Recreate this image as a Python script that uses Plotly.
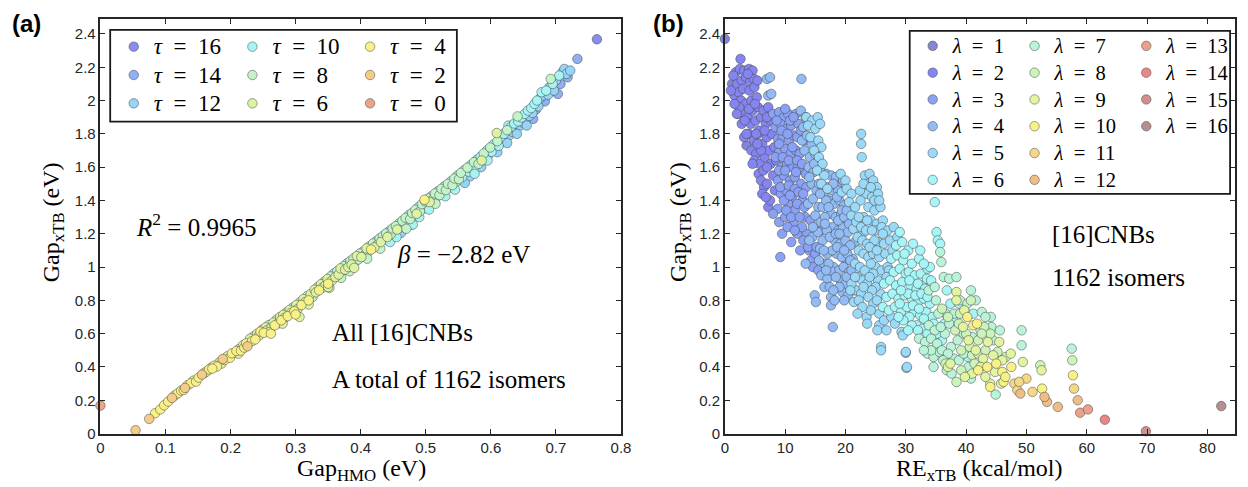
import plotly.graph_objects as go

# ---------------- Panel (a): Gap_xTB vs Gap_HMO, grouped by tau ----------------
tau_levels = [16, 14, 12, 10, 8, 6, 4, 2, 0]
tau_colors = {16: "#8a8cf0", 14: "#8fb0f3", 12: "#96d4f8", 10: "#a6f4f4", 8: "#c3f3c8",
              6: "#dcf3a2", 4: "#f8f186", 2: "#f3cc88", 0: "#eaa488"}

hmo_t0 = [0.000]
xtb_t0 = [0.168]
hmo_t2 = [0.054, 0.075, 0.110, 0.130, 0.156, 0.188, 0.226]
xtb_t2 = [0.020, 0.088, 0.214, 0.274, 0.354, 0.448, 0.524]
hmo_t4 = [0.084, 0.092, 0.098, 0.104, 0.114, 0.119, 0.124, 0.134, 0.139, 0.147, 0.151, 0.163, 0.167,
          0.175, 0.179, 0.191, 0.199, 0.202, 0.209, 0.216, 0.221, 0.224, 0.233, 0.238, 0.246, 0.251,
          0.262, 0.268, 0.278, 0.288, 0.298, 0.309, 0.320, 0.336, 0.350, 0.416, 0.498, 0.300, 0.128, 0.172]
xtb_t4 = [0.122, 0.145, 0.170, 0.192, 0.228, 0.242, 0.258, 0.290, 0.302, 0.312, 0.336, 0.372, 0.385,
          0.408, 0.402, 0.442, 0.455, 0.482, 0.496, 0.498, 0.516, 0.542, 0.555, 0.565, 0.612, 0.605,
          0.600, 0.650, 0.680, 0.705, 0.735, 0.772, 0.800, 0.860, 0.900, 1.105, 1.404, 0.715, 0.262, 0.390]
hmo_t6 = [0.143, 0.159, 0.171, 0.183, 0.195, 0.206, 0.213, 0.219, 0.230, 0.241, 0.244, 0.249, 0.254,
          0.256, 0.263, 0.266, 0.273, 0.276, 0.281, 0.283, 0.291, 0.293, 0.301, 0.303, 0.306, 0.312,
          0.315, 0.323, 0.329, 0.331, 0.339, 0.341, 0.346, 0.349, 0.352, 0.356, 0.361, 0.366, 0.369,
          0.376, 0.381, 0.386, 0.394, 0.401, 0.409, 0.421, 0.431, 0.441, 0.456, 0.486, 0.506, 0.586,
          0.609, 0.350, 0.390, 0.320, 0.280, 0.260, 0.186, 0.212]
xtb_t6 = [0.318, 0.362, 0.398, 0.428, 0.464, 0.485, 0.508, 0.530, 0.570, 0.600, 0.590, 0.625, 0.638,
          0.620, 0.640, 0.667, 0.662, 0.700, 0.713, 0.695, 0.743, 0.725, 0.772, 0.748, 0.700, 0.808,
          0.790, 0.838, 0.864, 0.848, 0.897, 0.875, 0.892, 0.928, 0.875, 0.920, 0.940, 0.955, 0.992,
          0.985, 1.000, 1.015, 1.066, 1.060, 1.112, 1.118, 1.150, 1.180, 1.225, 1.320, 1.390, 1.640,
          1.805, 0.880, 0.995, 0.775, 0.660, 0.610, 0.420, 0.480]
hmo_t8 = [0.236, 0.259, 0.271, 0.286, 0.296, 0.307, 0.318, 0.326, 0.334, 0.344, 0.354, 0.364, 0.371,
          0.374, 0.383, 0.384, 0.389, 0.396, 0.399, 0.406, 0.411, 0.414, 0.419, 0.426, 0.429, 0.434,
          0.439, 0.446, 0.449, 0.454, 0.464, 0.469, 0.476, 0.479, 0.484, 0.491, 0.494, 0.499, 0.504,
          0.511, 0.514, 0.521, 0.524, 0.531, 0.534, 0.541, 0.544, 0.551, 0.554, 0.564, 0.574, 0.581,
          0.589, 0.599, 0.610, 0.625, 0.641, 0.692, 0.430, 0.470, 0.515, 0.370, 0.410]
xtb_t8 = [0.585, 0.652, 0.685, 0.728, 0.757, 0.790, 0.826, 0.820, 0.880, 0.912, 0.944, 0.976, 0.970,
          1.006, 0.975, 1.036, 1.052, 1.045, 1.082, 1.072, 1.090, 1.126, 1.142, 1.135, 1.172, 1.186,
          1.202, 1.195, 1.232, 1.246, 1.278, 1.295, 1.288, 1.325, 1.344, 1.335, 1.378, 1.395, 1.412,
          1.405, 1.442, 1.432, 1.470, 1.462, 1.500, 1.492, 1.532, 1.528, 1.566, 1.597, 1.630, 1.620,
          1.682, 1.718, 1.756, 1.822, 1.905, 2.130, 1.110, 1.230, 1.380, 0.935, 1.050]
hmo_t10 = [0.359, 0.379, 0.391, 0.404, 0.424, 0.436, 0.444, 0.451, 0.459, 0.461, 0.466, 0.471, 0.474,
           0.481, 0.489, 0.496, 0.501, 0.509, 0.516, 0.519, 0.526, 0.529, 0.536, 0.539, 0.546, 0.549,
           0.556, 0.559, 0.566, 0.569, 0.571, 0.576, 0.579, 0.584, 0.591, 0.594, 0.601, 0.604, 0.612,
           0.615, 0.620, 0.627, 0.631, 0.636, 0.642, 0.647, 0.652, 0.657, 0.662, 0.667, 0.671, 0.678,
           0.685, 0.695, 0.705, 0.445, 0.455, 0.480, 0.490, 0.505, 0.530, 0.545, 0.575, 0.595]
xtb_t10 = [0.962, 1.022, 1.030, 1.094, 1.156, 1.165, 1.216, 1.210, 1.262, 1.238, 1.255, 1.270, 1.312,
           1.300, 1.360, 1.350, 1.372, 1.426, 1.418, 1.456, 1.448, 1.486, 1.478, 1.516, 1.508, 1.550,
           1.540, 1.582, 1.573, 1.612, 1.592, 1.605, 1.646, 1.662, 1.655, 1.700, 1.692, 1.736, 1.728,
           1.780, 1.800, 1.850, 1.842, 1.862, 1.875, 1.898, 1.920, 1.940, 1.955, 1.980, 2.000, 2.050,
           2.060, 2.100, 2.150, 1.150, 1.180, 1.255, 1.300, 1.345, 1.425, 1.465, 1.560, 1.640]
hmo_t12 = [0.462, 0.478, 0.561, 0.568, 0.596, 0.606, 0.617, 0.622, 0.628, 0.633, 0.638, 0.645, 0.649,
           0.654, 0.659, 0.664, 0.673, 0.676, 0.680, 0.688, 0.690, 0.697, 0.700, 0.710, 0.713, 0.716,
           0.722, 0.560, 0.585, 0.610, 0.625, 0.640, 0.655]
xtb_t12 = [1.205, 1.255, 1.560, 1.545, 1.672, 1.710, 1.750, 1.770, 1.790, 1.812, 1.835, 1.850, 1.868,
           1.890, 1.908, 1.925, 1.965, 2.015, 2.030, 2.035, 2.080, 2.060, 2.120, 2.170, 2.190, 2.160,
           2.180, 1.505, 1.600, 1.690, 1.745, 1.800, 1.850]
hmo_t14 = [0.669, 0.683, 0.703, 0.707, 0.718, 0.733, 0.665]
xtb_t14 = [1.945, 1.995, 2.040, 2.100, 2.140, 2.250, 1.890]
hmo_t16 = [0.763]
xtb_t16 = [2.368]

gap_hmo = {0: hmo_t0, 2: hmo_t2, 4: hmo_t4, 6: hmo_t6, 8: hmo_t8, 10: hmo_t10, 12: hmo_t12, 14: hmo_t14, 16: hmo_t16}
gap_xtb_a = {0: xtb_t0, 2: xtb_t2, 4: xtb_t4, 6: xtb_t6, 8: xtb_t8, 10: xtb_t10, 12: xtb_t12, 14: xtb_t14, 16: xtb_t16}

# ---------------- Panel (b): Gap_xTB vs RE_xTB, grouped by lambda ----------------
lam_levels = list(range(1, 17))
lam_colors = {1: "#8686d4", 2: "#8585f2", 3: "#8aa2f5", 4: "#92bcf5", 5: "#9ad9f8", 6: "#a6f5f7",
              7: "#baf4d8", 8: "#ccf4b8", 9: "#e1f4a0", 10: "#f7f286", 11: "#f4d888", 12: "#efbd88",
              13: "#eba088", 14: "#e68888", 15: "#d09090", 16: "#b58f8f"}

re_l1 = [0.0, 1.2, 3.6, 5.5]
gap_l1 = [2.37, 2.10, 1.73, 1.80]
re_l2 = [2.6, 1.8, 2.5, 3.2, 4.0, 4.6, 2.0, 2.8, 3.5, 4.2, 4.8, 1.6, 2.3, 3.0, 4.1, 4.9, 2.0, 2.7, 3.5, 4.4,
         5.3, 2.2, 3.0, 3.8, 4.6, 5.5, 2.8, 4.3, 5.1, 6.0, 3.2, 4.0, 4.8, 5.6, 4.4, 5.2, 6.2, 4.9, 5.8, 6.6,
         6.4, 7.2, 6.8, 7.6, 7.0, 7.8, 7.3, 8.2, 7.6, 8.5, 8.0, 8.3, 7.2, 6.5, 7.5,
         1.4, 3.8, 5.4, 1.0, 2.4, 3.3, 4.0, 5.0, 3.6, 5.2, 6.0, 5.4, 6.6, 7.0, 4.6, 5.6, 6.4, 7.0, 6.0,
         7.0, 6.2, 6.8, 2.0, 1.6]
gap_l2 = [2.25, 2.17, 2.19, 2.18, 2.19, 2.18, 2.10, 2.12, 2.14, 2.11, 2.13, 2.03, 2.05, 2.07, 2.06, 2.08,
          1.98, 2.00, 1.98, 2.00, 2.02, 1.92, 1.93, 1.90, 1.94, 1.96, 1.86, 1.86, 1.88, 1.90, 1.78, 1.80,
          1.76, 1.82, 1.70, 1.68, 1.74, 1.64, 1.62, 1.66, 1.94, 1.96, 1.86, 1.88, 1.78, 1.80, 1.70, 1.72,
          1.62, 1.64, 1.55, 1.46, 1.36, 1.48, 1.40,
          2.15, 2.16, 2.12, 2.06, 1.96, 1.88, 1.95, 1.98, 1.80, 1.80, 1.70, 1.74, 1.82, 1.90, 1.62, 1.56,
          1.58, 1.60, 1.52, 1.50, 1.44, 1.42, 1.92, 1.98]
re_l3 = [8.0, 9.0, 9.8, 10.5, 8.4, 9.2, 10.2, 11.0, 8.8, 9.6, 10.6, 11.4, 9.0, 10.0, 10.9, 11.8, 9.4, 10.3,
         11.2, 8.8, 9.8, 10.8, 11.6, 9.3, 10.2, 11.1, 8.8, 9.0, 9.2, 10.5, 11.6, 10.0, 11.4, 8.0, 9.5, 10.4,
         11.0, 12.0, 12.5, 11.8, 12.2, 12.0, 12.4, 12.1, 12.6, 12.9, 13.3, 13.6, 14.0, 14.3, 20.1, 13.0,
         13.5, 14.2, 15.0,
         8.6, 9.4, 10.0, 10.8, 11.4, 9.0, 10.4, 11.2, 12.6, 13.2, 8.4, 9.6, 10.6, 12.0, 12.8, 9.0, 10.0,
         11.8, 13.4, 9.2, 10.6, 11.6, 12.2, 13.0, 9.8, 10.8, 12.0, 13.2, 10.2, 11.0, 12.4, 12.8, 13.0,
         13.8, 11.6, 14.6, 15.5, 15.2, 16.0]
gap_l3 = [1.92, 1.93, 1.90, 1.92, 1.84, 1.86, 1.83, 1.85, 1.77, 1.78, 1.76, 1.79, 1.69, 1.71, 1.68, 1.70,
          1.60, 1.62, 1.60, 1.52, 1.55, 1.52, 1.54, 1.44, 1.46, 1.42, 1.35, 1.27, 1.06, 1.38, 1.34, 1.30,
          1.27, 1.32, 1.20, 1.24, 1.15, 1.20, 1.10, 1.92, 1.86, 1.78, 1.68, 1.60, 1.50, 1.40, 1.30, 1.20,
          1.10, 1.04, 1.04, 1.58, 1.48, 1.28, 1.08,
          1.88, 1.82, 1.95, 1.88, 1.90, 1.74, 1.80, 1.72, 1.82, 1.76, 1.66, 1.66, 1.64, 1.64, 1.62, 1.58,
          1.58, 1.57, 1.56, 1.48, 1.49, 1.47, 1.45, 1.44, 1.40, 1.43, 1.38, 1.36, 1.34, 1.30, 1.30, 1.24,
          1.16, 1.12, 1.22, 1.00, 0.98, 1.12, 1.22]
re_l4 = [7.0, 7.5, 7.2, 7.7, 12.7, 12.6, 13.4, 13.0, 14.0, 12.8, 13.6, 14.4, 13.2, 14.1, 15.0, 13.9, 14.7,
         14.4, 15.2, 13.8, 14.6, 15.5, 15.0, 15.9, 14.5, 15.4, 16.2, 15.8, 16.5, 17.0, 14.9, 15.1, 17.6,
         17.6, 17.9, 16.8, 17.6, 18.4, 17.0, 17.8, 18.6, 17.3, 18.1, 19.0, 17.6, 18.4, 19.3, 17.9, 18.8,
         16.6, 16.9, 18.2, 19.1, 18.5, 19.4, 18.0, 18.9, 19.7, 19.2, 20.0, 19.5, 16.0, 17.0, 16.5, 17.5,
         20.6, 21.2, 20.3, 20.0, 19.6, 20.4, 20.1, 19.8, 21.6, 20.8, 21.4, 20.4,
         14.0, 14.8, 15.8, 16.4, 15.6, 16.2, 16.8, 15.8, 16.6, 17.4, 17.2, 18.8, 19.6, 18.0, 18.6, 19.4,
         18.8, 19.8, 18.4, 19.0, 20.6, 20.2, 17.8, 18.6, 19.8, 20.8, 17.2, 18.4, 19.0, 20.2, 21.0, 16.8,
         17.4, 18.0, 18.2, 19.8, 14.0, 14.6, 15.6, 16.4, 13.4]
gap_l4 = [2.13, 2.14, 2.03, 2.04, 2.13, 1.94, 1.90, 1.84, 1.87, 1.76, 1.79, 1.74, 1.70, 1.66, 1.68, 1.60,
          1.57, 1.50, 1.46, 1.38, 1.41, 1.36, 1.31, 1.27, 1.18, 1.21, 1.16, 1.11, 1.02, 1.08, 0.83, 0.79,
          0.82, 0.77, 0.64, 1.56, 1.55, 1.54, 1.48, 1.46, 1.49, 1.40, 1.38, 1.40, 1.32, 1.30, 1.32, 1.24,
          1.22, 1.30, 1.22, 1.16, 1.14, 1.08, 1.06, 1.00, 0.98, 1.00, 0.92, 0.90, 0.85, 0.95, 0.93, 0.88,
          0.98, 0.97, 1.05, 1.08, 1.16, 1.24, 1.21, 1.29, 1.37, 1.15, 1.13, 0.86, 0.83,
          1.54, 1.62, 1.58, 1.44, 1.50, 1.36, 1.40, 1.44, 1.26, 1.18, 1.36, 1.46, 1.52, 1.50, 1.42, 1.34,
          1.28, 1.30, 1.20, 1.20, 1.26, 1.34, 1.10, 1.12, 1.10, 1.04, 1.02, 0.94, 0.88, 0.94, 0.98, 0.98,
          0.88, 0.86, 0.80, 0.80, 1.16, 1.24, 1.04, 1.10, 1.02]
re_l5 = [13.5, 14.5, 15.4, 13.8, 15.0, 15.8, 14.2, 15.5, 16.0, 14.8, 15.6, 16.2, 15.3, 16.5, 16.0, 17.0,
         19.2, 20.0, 19.4, 20.2, 21.0, 20.6, 21.0, 21.3, 22.6, 22.6, 22.7, 23.2, 24.0, 23.6, 24.6, 25.2,
         23.4, 24.4, 25.4, 23.8, 24.8, 25.8, 24.2, 25.2, 26.2, 23.0, 22.5, 22.8, 21.8, 22.6, 23.4, 22.0,
         22.8, 23.6, 22.2, 23.0, 23.8, 21.6, 22.4, 23.2, 22.0, 22.8, 23.6, 21.8, 22.6, 21.4, 22.2, 23.5,
         23.6, 25.6, 25.3, 25.9, 25.9, 29.3, 29.5, 30.0, 30.1, 30.2, 30.0, 25.0, 26.0, 25.4, 26.4, 24.6,
         25.6, 25.0, 26.0, 25.4, 25.8, 27.0, 28.0, 27.4, 26.6, 27.0,
         21.6, 22.2, 23.6, 24.4, 24.8, 24.0, 25.2, 26.2, 24.2, 24.6, 25.0, 24.0, 24.4, 23.0, 23.8, 24.6,
         25.2, 25.6, 26.4, 24.2, 27.2, 27.8, 28.6, 26.8, 22.4, 23.0, 24.2, 24.8, 25.6, 21.0, 21.6, 20.8,
         22.8, 27.6, 26.8, 28.2, 22.0]
gap_l5 = [1.90, 1.88, 1.90, 1.85, 1.83, 1.86, 1.78, 1.76, 1.72, 1.70, 1.66, 1.62, 1.58, 1.55, 1.50, 1.47,
          1.56, 1.52, 1.45, 1.47, 1.44, 1.39, 1.31, 1.23, 1.80, 1.74, 1.66, 1.55, 1.56, 1.50, 1.52, 1.48,
          1.44, 1.42, 1.44, 1.36, 1.34, 1.36, 1.28, 1.26, 1.28, 1.30, 1.40, 1.20, 1.27, 1.24, 1.22, 1.18,
          1.16, 1.14, 1.10, 1.08, 1.06, 1.02, 1.00, 0.98, 0.94, 0.92, 0.90, 0.86, 0.84, 0.79, 0.80, 0.70,
          0.66, 0.65, 0.62, 0.52, 0.50, 0.61, 0.59, 0.485, 0.394, 0.40, 0.49, 1.22, 1.24, 1.15, 1.14, 1.08,
          1.06, 1.00, 0.98, 0.92, 0.84, 1.22, 1.24, 1.16, 1.08, 1.00,
          1.36, 1.30, 1.28, 1.22, 1.16, 1.12, 1.10, 1.20, 1.02, 0.96, 0.88, 0.94, 0.86, 0.88, 0.82, 0.78,
          0.80, 0.72, 0.68, 0.74, 0.98, 1.10, 1.18, 0.94, 1.46, 1.50, 1.48, 1.40, 1.40, 0.90, 0.94, 0.86,
          0.76, 0.70, 0.62, 0.66, 0.72]
re_l6 = [29.0, 28.4, 29.4, 27.6, 28.6, 29.6, 28.0, 29.0, 30.0, 26.4, 27.4, 28.4, 29.4, 26.8, 27.8, 28.8,
         29.8, 26.2, 27.2, 28.2, 29.2, 30.5, 31.5, 32.5, 30.8, 31.8, 32.8, 31.0, 32.0, 33.0, 31.4, 32.4,
         33.4, 31.8, 32.8, 34.8, 35.1, 35.3, 35.7, 40.3, 39.8, 41.2, 36.0, 36.4, 33.5, 34.0, 34.4,
         30.4, 31.2, 31.0, 32.2, 30.6, 32.0, 33.2, 33.6, 34.2, 30.4, 31.6, 32.6, 33.6, 30.2, 31.2, 32.2,
         33.0, 30.6, 31.0, 32.0, 30.4, 29.6, 28.8, 29.0, 33.6, 34.6, 35.2, 36.6, 37.4, 38.8, 37.8, 34.0,
         33.0, 32.4, 29.8, 29.2, 36.8]
gap_l6 = [1.21, 1.13, 1.15, 1.05, 1.07, 1.04, 0.97, 0.99, 0.96, 0.90, 0.92, 0.89, 0.91, 0.82, 0.84, 0.81,
          0.83, 0.76, 0.74, 0.76, 0.73, 0.97, 0.95, 0.96, 0.89, 0.87, 0.89, 0.81, 0.79, 0.81, 0.73, 0.71,
          0.73, 0.65, 0.63, 1.39, 1.21, 1.16, 1.14, 0.46, 0.73, 0.72, 0.56, 0.66, 0.93, 0.78, 0.70,
          1.10, 1.14, 1.02, 1.05, 0.92, 0.90, 0.87, 0.99, 0.92, 0.84, 0.83, 0.84, 0.82, 0.76, 0.77, 0.75,
          0.69, 0.70, 0.65, 0.62, 0.62, 0.68, 0.70, 0.78, 0.60, 0.66, 0.60, 0.72, 0.78, 0.78, 0.68, 1.00,
          1.02, 1.10, 1.08, 0.86, 0.86]
re_l7 = [35.7, 35.9, 36.3, 37.2, 38.4, 40.8, 44.1, 49.2, 49.2, 57.5, 44.9, 36.5, 37.5, 38.0, 36.8, 33.8,
         34.8, 35.0, 35.4, 33.8, 34.8, 35.8, 32.2, 33.2, 34.2, 35.2, 33.6, 34.6, 35.6, 42.6, 44.5, 37.2,
         36.0, 37.0, 38.6, 39.6, 38.0, 39.0, 40.2, 41.6, 42.4, 43.2, 44.2, 41.0, 38.8, 39.6, 37.6, 40.4,
         36.2, 34.2, 33.0, 40.8, 45.6, 34.6]
gap_l7 = [1.09, 1.03, 0.94, 0.93, 0.94, 0.86, 0.70, 0.62, 0.53, 0.51, 0.234, 0.60, 0.52, 0.45, 0.38, 0.86,
          0.88, 0.80, 0.72, 0.65, 0.62, 0.64, 0.57, 0.55, 0.57, 0.54, 0.48, 0.46, 0.49, 0.73, 0.56, 0.66,
          0.50, 0.48, 0.56, 0.60, 0.72, 0.80, 0.78, 0.80, 0.62, 0.70, 0.64, 0.58, 0.44, 0.48, 0.36, 0.40,
          0.44, 0.50, 0.50, 0.33, 0.62, 0.40]
re_l8 = [40.8, 39.0, 42.0, 38.4, 57.6, 52.3, 36.6, 41.0, 43.0, 37.0, 38.2, 39.2, 36.0, 40.0,
         42.0, 43.2, 40.6, 39.2, 41.4, 45.2, 46.6, 44.0, 38.8, 42.6]
gap_l8 = [0.80, 0.72, 0.56, 0.31, 0.44, 0.41, 0.42, 0.47, 0.64, 0.70, 0.62, 0.50, 0.75, 0.60,
          0.48, 0.50, 0.52, 0.38, 0.42, 0.49, 0.46, 0.60, 0.66, 0.60]
re_l9 = [38.4, 38.4, 39.5, 40.4, 44.0, 37.0, 37.4, 49.4, 52.5, 41.6, 44.5, 45.5, 39.7, 42.8, 43.6,
         41.0, 42.4, 43.2, 44.8, 46.0, 47.4, 45.8, 39.8]
gap_l9 = [0.85, 0.80, 0.64, 0.56, 0.30, 0.40, 0.42, 0.43, 0.38, 0.50, 0.47, 0.55, 0.74, 0.45, 0.55,
          0.36, 0.40, 0.34, 0.37, 0.44, 0.48, 0.30, 0.34]
re_l10 = [41.2, 40.2, 46.0, 46.2, 46.5, 44.0, 52.6, 57.7, 43.5, 45.0, 47.5, 42.0, 41.8]
gap_l10 = [0.65, 0.70, 0.37, 0.31, 0.34, 0.28, 0.27, 0.35, 0.40, 0.42, 0.40, 0.38, 0.66]
re_l11 = [48.0, 48.5, 51.0, 50.0, 57.9, 48.8]
gap_l11 = [0.30, 0.26, 0.25, 0.33, 0.27, 0.31]
re_l12 = [49.0, 53.4, 53.0, 55.2, 58.5]
gap_l12 = [0.24, 0.19, 0.22, 0.16, 0.20]
re_l13 = [58.9, 60.2]
gap_l13 = [0.125, 0.145]
re_l14 = [63.0]
gap_l14 = [0.083]
re_l15 = [69.8]
gap_l15 = [0.014]
re_l16 = [82.3]
gap_l16 = [0.165]

re_xtb = {1: re_l1, 2: re_l2, 3: re_l3, 4: re_l4, 5: re_l5, 6: re_l6, 7: re_l7, 8: re_l8,
          9: re_l9, 10: re_l10, 11: re_l11, 12: re_l12, 13: re_l13, 14: re_l14, 15: re_l15, 16: re_l16}
gap_xtb_b = {1: gap_l1, 2: gap_l2, 3: gap_l3, 4: gap_l4, 5: gap_l5, 6: gap_l6, 7: gap_l7, 8: gap_l8,
             9: gap_l9, 10: gap_l10, 11: gap_l11, 12: gap_l12, 13: gap_l13, 14: gap_l14, 15: gap_l15, 16: gap_l16}

# ticks
xa_ticks = [0, 0.1, 0.2, 0.3, 0.4, 0.5, 0.6, 0.7, 0.8]
xa_labels = ["0", "0.1", "0.2", "0.3", "0.4", "0.5", "0.6", "0.7", "0.8"]
xb_ticks = [0, 10, 20, 30, 40, 50, 60, 70, 80]
xb_labels = ["0", "10", "20", "30", "40", "50", "60", "70", "80"]
y_ticks = [0, 0.2, 0.4, 0.6, 0.8, 1.0, 1.2, 1.4, 1.6, 1.8, 2.0, 2.2, 2.4]
y_labels = ["0", "0.2", "0.4", "0.6", "0.8", "1", "1.2", "1.4", "1.6", "1.8", "2", "2.2", "2.4"]

W, H = 1248, 487
H_EFF = 479.5   # effective drawn height observed in the viewer
SERIF = "Liberation Serif, Times New Roman, serif"
SANS = "Liberation Sans, Arial, Helvetica, sans-serif"
EDGE = dict(color="rgba(70,70,70,0.85)", width=0.6)

fig = go.Figure()

tau_legend = {16: "legend", 14: "legend", 12: "legend", 10: "legend2", 8: "legend2", 6: "legend2",
              4: "legend3", 2: "legend3", 0: "legend3"}
for t in tau_levels:
    fig.add_trace(go.Scatter(
        x=gap_hmo[t], y=gap_xtb_a[t], mode="markers",
        name='<span style="font-size:23px"><i>τ</i>\u2002=\u2002%d</span>' % t,
        marker=dict(size=9.5, color=tau_colors[t], line=EDGE),
        legend=tau_legend[t], legendgroup="t%d" % t, xaxis="x", yaxis="y", cliponaxis=False))

def lam_leg(l):
    return "legend4" if l <= 6 else ("legend5" if l <= 12 else "legend6")

for l in lam_levels:
    fig.add_trace(go.Scatter(
        x=re_xtb[l], y=gap_xtb_b[l], mode="markers",
        name='<span style="font-size:20.5px"><i>λ</i>\u2002=\u2002%d</span>' % l,
        marker=dict(size=9.5, color=lam_colors[l], line=EDGE),
        legend=lam_leg(l), legendgroup="l%d" % l, xaxis="x2", yaxis="y2", cliponaxis=False))

def px_x(p):
    return p / W

def px_y(p):
    return 1 - p / H_EFF

axis_common = dict(showline=True, linewidth=1.5, linecolor="#262626", mirror="ticks",
                   ticks="inside", ticklen=5, tickwidth=1, tickcolor="#262626",
                   showgrid=False, zeroline=False,
                   tickfont=dict(family=SANS, size=15, color="#262626"))

yd = [px_y(434), px_y(19)]
fig.update_layout(
    width=W, height=H, margin=dict(l=0, r=0, t=0, b=0),
    paper_bgcolor="white", plot_bgcolor="white", showlegend=True,
    xaxis=dict(domain=[px_x(97.5), px_x(624)], range=[0, 0.8], tickvals=xa_ticks, ticktext=xa_labels,
               anchor="y", **axis_common),
    yaxis=dict(domain=yd, range=[0, 2.49], tickvals=y_ticks, ticktext=y_labels, anchor="x", **axis_common),
    xaxis2=dict(domain=[px_x(729), px_x(1244.5)], range=[0, 84.5], tickvals=xb_ticks, ticktext=xb_labels,
                anchor="y2", **axis_common),
    yaxis2=dict(domain=yd, range=[0, 2.49], tickvals=y_ticks, ticktext=y_labels, anchor="x2", **axis_common),
)

leg_a = dict(font=dict(family=SERIF, size=19.5, color="black"), bgcolor="rgba(0,0,0,0)", borderwidth=0,
             xanchor="left", yanchor="top", y=px_y(27.5), tracegroupgap=0, traceorder="grouped")
leg_b = dict(font=dict(family=SERIF, size=18.3, color="black"), bgcolor="rgba(0,0,0,0)", borderwidth=0,
             xanchor="left", yanchor="top", y=px_y(27.5), tracegroupgap=0, traceorder="grouped")
fig.update_layout(
    legend=dict(x=px_x(111), **leg_a),
    legend2=dict(x=px_x(231), **leg_a),
    legend3=dict(x=px_x(350), **leg_a),
    legend4=dict(x=px_x(919), **leg_b),
    legend5=dict(x=px_x(1022), **leg_b),
    legend6=dict(x=px_x(1135), **leg_b),
)

fig.add_shape(type="rect", xref="paper", yref="paper", x0=px_x(107.4), x1=px_x(458),
              y0=px_y(121.7), y1=px_y(30), line=dict(color="#1a1a1a", width=1.8), fillcolor="white", layer="above")
fig.add_shape(type="rect", xref="paper", yref="paper", x0=px_x(916), x1=px_x(1240),
              y0=px_y(194), y1=px_y(31), line=dict(color="#1a1a1a", width=1.8), fillcolor="white", layer="above")

ann = []
def text(x, y, s, size=25, xref="x", yref="y", xanchor="left", angle=0, family=SERIF, color="black"):
    ann.append(dict(x=x, y=y, xref=xref, yref=yref, text=s, showarrow=False, xanchor=xanchor,
                    yanchor="middle", textangle=angle, font=dict(family=family, size=size, color=color)))

text(0.052, 1.254, "<i>R</i><sup>2</sup> = 0.9965")
text(0.452, 1.074, "<i>β</i> = −2.82 eV")
text(0.353, 0.604, "All [16]CNBs")
text(0.353, 0.324, "A total of 1162 isomers")
text(53.9, 1.194, "[16]CNBs", xref="x2", yref="y2")
text(53.9, 0.936, "1162 isomers", xref="x2", yref="y2")
text(px_x(362), px_y(470), "Gap<sub>HMO</sub> (eV)", size=24, xref="paper", yref="paper", xanchor="center")
text(px_x(986), px_y(470), "RE<sub>xTB</sub> (kcal/mol)", size=24, xref="paper", yref="paper", xanchor="center")
text(px_x(49), px_y(222), "Gap<sub>xTB</sub> (eV)", size=24, xref="paper", yref="paper", xanchor="center", angle=-90)
text(px_x(683), px_y(222), "Gap<sub>xTB</sub> (eV)", size=24, xref="paper", yref="paper", xanchor="center", angle=-90)
text(px_x(6), px_y(24), "<b>(a)</b>", size=24, xref="paper", yref="paper", family=SANS)
text(px_x(654), px_y(24), "<b>(b)</b>", size=24, xref="paper", yref="paper", family=SANS)
fig.update_layout(annotations=ann)

fig.write_html("out.html")
